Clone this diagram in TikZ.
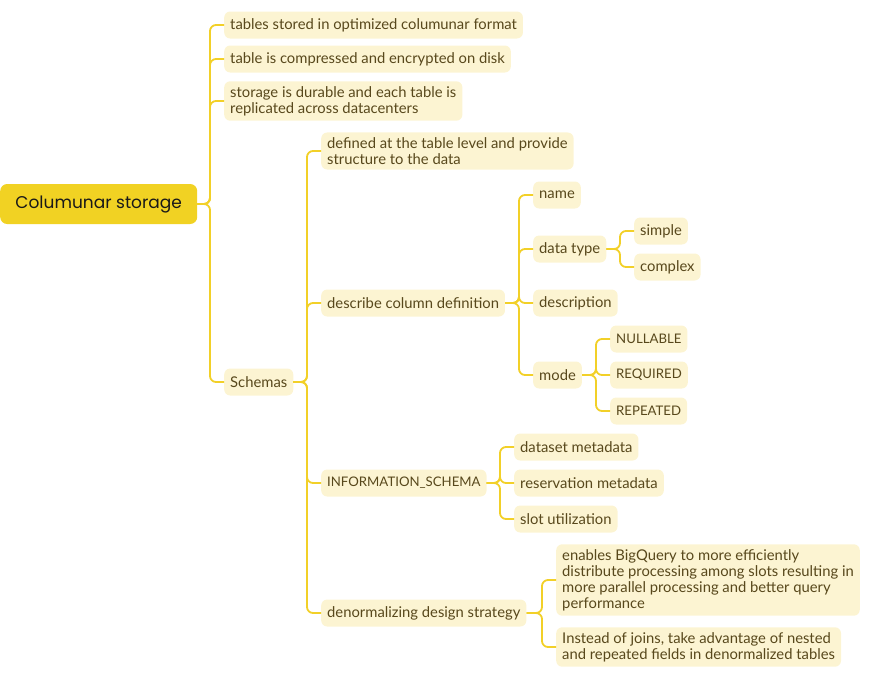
\documentclass[tikz,border=0pt]{standalone}
\usepackage{fontspec}
\setmainfont{Lato}
\newfontfamily\rootfont{Poppins}
\definecolor{rootyellow}{RGB}{241,210,35}
\definecolor{leafyellow}{RGB}{252,244,210}
\definecolor{linkyellow}{RGB}{242,208,40}
\definecolor{leaftext}{RGB}{88,72,28}
\begin{document}
\begin{tikzpicture}[x=1pt,y=-1pt,
    rootbox/.style={fill=rootyellow,rounded corners=7pt,minimum width=197pt,minimum height=40pt,
        anchor=west,font=\rootfont\fontsize{17}{19}\selectfont,text=black!90},
    leaf/.style={fill=leafyellow,rounded corners=6pt,inner xsep=6pt,inner ysep=5pt,minimum height=27pt,
        anchor=west,align=left,text=leaftext,font=\fontsize{14.8}{16}\selectfont},
    caps/.style={leaf,font=\fontsize{13.2}{16}\selectfont},
    branch/.style={draw=linkyellow,line width=1.8pt,rounded corners=6pt}]
    \useasboundingbox (0,0) rectangle (877,686);
    \node[rootbox] (cs) at (0,204) {Columunar storage};
    \node[leaf] (tbl) at (224,25) {tables stored in optimized columunar format};
    \node[leaf] (enc) at (224,59) {table is compressed and encrypted on disk};
    \node[leaf] (dur) at (224,101) {storage is durable and each table is\\replicated across datacenters};
    \node[leaf] (sch) at (224,382) {Schemas};
    \node[leaf] (def) at (321,151) {defined at the table level and provide\\structure to the data};
    \node[leaf] (col) at (321,303) {describe column definition};
    \node[caps] (info) at (321,483) {INFORMATION\_SCHEMA};
    \node[leaf] (den) at (321,613) {denormalizing design strategy};
    \node[leaf] (name) at (533,195) {name};
    \node[leaf] (dtype) at (533,249) {data type};
    \node[leaf] (desc) at (533,303) {description};
    \node[leaf] (mode) at (533,375) {mode};
    \node[leaf] (simple) at (634,231) {simple};
    \node[leaf] (complex) at (634,267) {complex};
    \node[caps] (null) at (610,339) {NULLABLE};
    \node[caps] (req) at (610,375) {REQUIRED};
    \node[caps] (rep) at (610,411) {REPEATED};
    \node[leaf] (dset) at (514,447) {dataset metadata};
    \node[leaf] (resv) at (514,483) {reservation metadata};
    \node[leaf] (slot) at (514,519) {slot utilization};
    \node[leaf] (bq) at (556,580) {enables BigQuery to more efficiently\\distribute processing among slots resulting in\\more parallel processing and better query\\performance};
    \node[leaf] (joins) at (556,647) {Instead of joins, take advantage of nested\\and repeated fields in denormalized tables};
    % connectors
    \foreach \p/\kids in {cs/{tbl,enc,dur,sch}, sch/{def,col,info,den}, col/{name,dtype,desc,mode},
        dtype/{simple,complex}, mode/{null,req,rep}, info/{dset,resv,slot}, den/{bq,joins}}
        \foreach \c in \kids
            \draw[branch] (\p.east) -| ([xshift=-14pt]\c.west) -- (\c.west);
\end{tikzpicture}
\end{document}
